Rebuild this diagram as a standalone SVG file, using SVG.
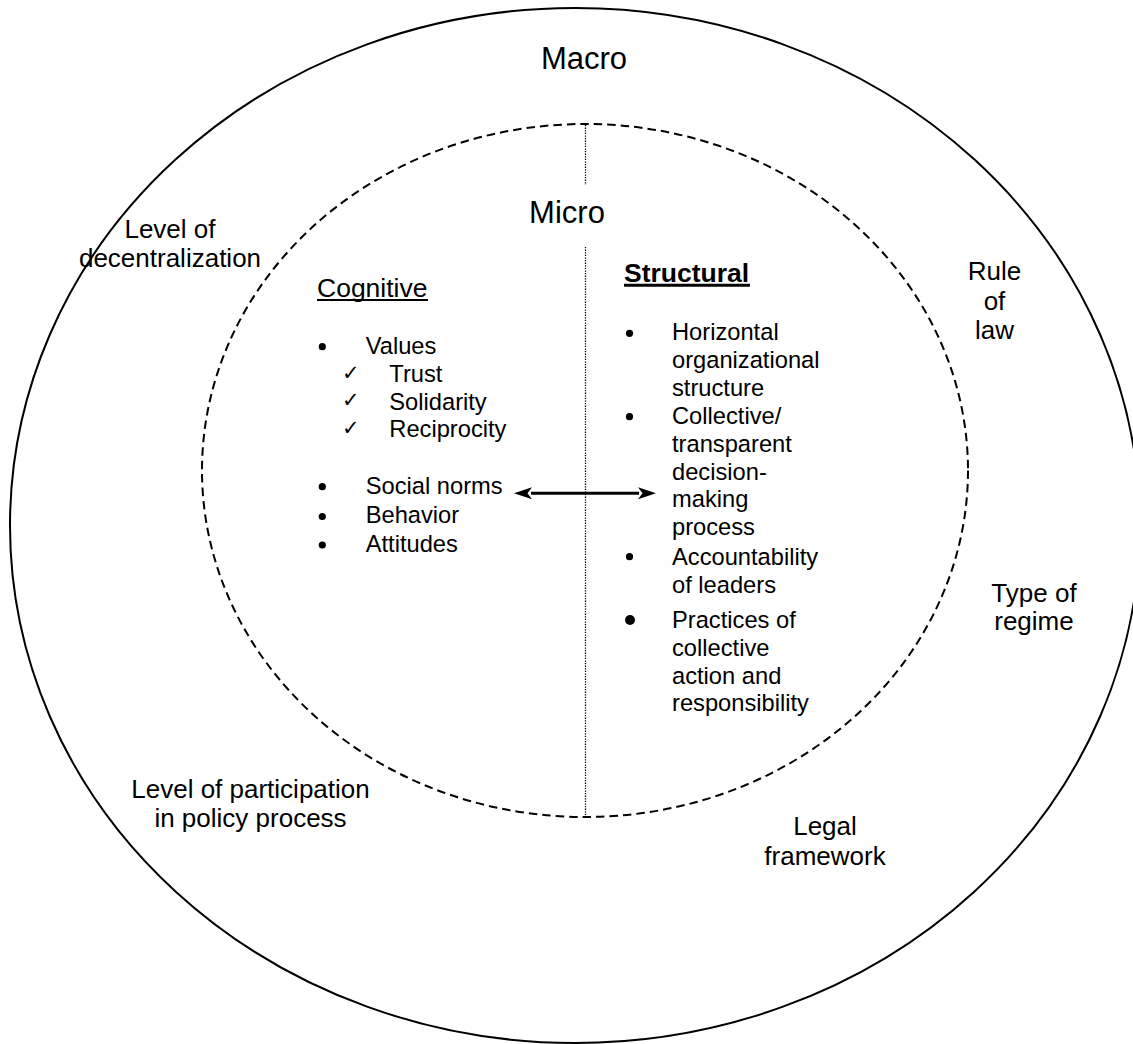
<svg xmlns="http://www.w3.org/2000/svg" width="1133" height="1044" viewBox="0 0 1133 1044">
  <style>
    text { font-family: "Liberation Sans", Arial, sans-serif; fill: #000; }
    .big { font-size: 31px; text-anchor: middle; }
    .outer { font-size: 26px; text-anchor: middle; }
    .head { font-size: 26.5px; }
    .item { font-size: 23.7px; }
    .check { font-family: "DejaVu Sans", sans-serif; font-size: 21px; }
    .bullet { fill: #000; }
    .uline { stroke: #000; }
  </style>
  <defs>
    <marker id="barb" viewBox="0 0 18 13" refX="1" refY="6.5" markerWidth="18" markerHeight="13" markerUnits="userSpaceOnUse" orient="auto-start-reverse">
      <path d="M18 6.5 L0 0.5 L4.5 6.5 L0 12.5 Z" fill="#000"/>
    </marker>
  </defs>

  <rect width="1133" height="1044" fill="#fff"/>

  <!-- macro level: outer ring -->
  <g id="macro">
    <ellipse cx="575" cy="525.5" rx="565" ry="517.5" fill="none" stroke="#000" stroke-width="2"/>
    <text class="big" x="584" y="69">Macro</text>
  </g>

  <!-- micro level: dashed inner ring split by a dotted divider -->
  <g id="micro">
    <ellipse cx="585" cy="470.5" rx="383" ry="346.5" fill="none" stroke="#000" stroke-width="2" stroke-dasharray="8.5 5"/>
    <line x1="585.5" y1="125" x2="585.5" y2="185" stroke="#000" stroke-width="1.3" stroke-dasharray="1.3 1.3"/>
    <line x1="585.5" y1="247" x2="585.5" y2="817" stroke="#000" stroke-width="1.3" stroke-dasharray="1.3 1.3"/>
    <text class="big" x="567" y="223">Micro</text>
  </g>

  <!-- outer-ring labels -->
  <g id="decentralization">
    <text class="outer" x="170" y="238">Level of</text>
    <text class="outer" x="170" y="266.5">decentralization</text>
  </g>
  <g id="rule-of-law">
    <text class="outer" x="994.5" y="280">Rule</text>
    <text class="outer" x="994.5" y="309.5">of</text>
    <text class="outer" x="994.5" y="339">law</text>
  </g>
  <g id="regime">
    <text class="outer" x="1034" y="601.7">Type of</text>
    <text class="outer" x="1034" y="630">regime</text>
  </g>
  <g id="participation">
    <text class="outer" x="250.5" y="798">Level of participation</text>
    <text class="outer" x="250.5" y="826.5">in policy process</text>
  </g>
  <g id="legal-framework">
    <text class="outer" x="825" y="835">Legal</text>
    <text class="outer" x="825" y="864.5">framework</text>
  </g>

  <!-- cognitive dimension -->
  <g id="cognitive">
    <text class="head" x="317" y="296.5">Cognitive</text>
    <line class="uline" x1="317" y1="300" x2="428" y2="300" stroke-width="2"/>
    <circle class="bullet" cx="322.3" cy="346.7" r="3.6"/>
    <text class="item" x="365.7" y="354">Values</text>
    <text class="check" x="342" y="379.5">✓</text>
    <text class="item" x="389.3" y="381.7">Trust</text>
    <text class="check" x="342" y="407.3">✓</text>
    <text class="item" x="389.3" y="409.5">Solidarity</text>
    <text class="check" x="342" y="434.8">✓</text>
    <text class="item" x="389.3" y="437">Reciprocity</text>
    <circle class="bullet" cx="322.3" cy="486.7" r="3.6"/>
    <text class="item" x="365.7" y="493.5">Social norms</text>
    <circle class="bullet" cx="322.3" cy="516.5" r="3.6"/>
    <text class="item" x="365.7" y="523">Behavior</text>
    <circle class="bullet" cx="322.3" cy="545" r="3.6"/>
    <text class="item" x="365.7" y="552">Attitudes</text>
  </g>

  <!-- structural dimension -->
  <g id="structural">
    <text class="head" x="624" y="281.7" font-weight="bold">Structural</text>
    <line class="uline" x1="624" y1="285.2" x2="750" y2="285.2" stroke-width="3"/>
    <circle class="bullet" cx="629.5" cy="333.3" r="3.6"/>
    <text class="item" x="672" y="340">Horizontal</text>
    <text class="item" x="672" y="367.9">organizational</text>
    <text class="item" x="672" y="395.8">structure</text>
    <circle class="bullet" cx="629.5" cy="416.7" r="3.6"/>
    <text class="item" x="672" y="423.7">Collective/</text>
    <text class="item" x="672" y="451.6">transparent</text>
    <text class="item" x="672" y="479.5">decision-</text>
    <text class="item" x="672" y="507.4">making</text>
    <text class="item" x="672" y="535.3">process</text>
    <circle class="bullet" cx="629.5" cy="556.7" r="3.6"/>
    <text class="item" x="672" y="565">Accountability</text>
    <text class="item" x="672" y="592.5">of leaders</text>
    <circle class="bullet" cx="630" cy="620" r="5"/>
    <text class="item" x="672" y="628.3">Practices of</text>
    <text class="item" x="672" y="656">collective</text>
    <text class="item" x="672" y="683.5">action and</text>
    <text class="item" x="672" y="711">responsibility</text>
  </g>

  <!-- connectors -->
  <g id="connectors">
    <line x1="531" y1="493.3" x2="639" y2="493.3" stroke="#000" stroke-width="3" marker-start="url(#barb)" marker-end="url(#barb)"/>
  </g>
</svg>
